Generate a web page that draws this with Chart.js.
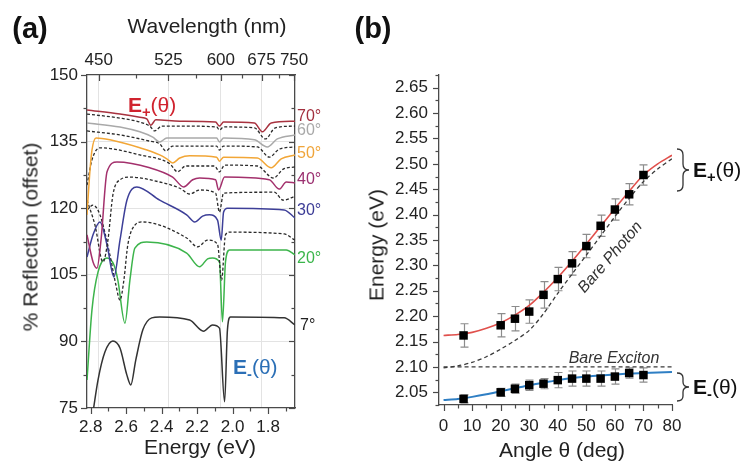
<!DOCTYPE html>
<html><head><meta charset="utf-8">
<script src="https://cdn.jsdelivr.net/npm/chart.js@4.4.1/dist/chart.umd.min.js"></script>
<style>
html,body{margin:0;padding:0;background:#fff;}
body{width:751px;height:461px;position:relative;overflow:hidden;font-family:"Liberation Sans",Arial,Helvetica,sans-serif;}
canvas{position:absolute;top:0;}
#ca{left:0;}
#cb{left:355px;}
.t{position:absolute;white-space:nowrap;line-height:1;color:#222;transform:translate(-50%,-50%);}
.l{position:absolute;white-space:nowrap;line-height:1;transform:translate(0,-50%);font-size:16px;}
sub{font-size:70%;vertical-align:-0.35em;}
</style></head><body>
<canvas id="ca" width="355" height="461"></canvas>
<canvas id="cb" width="396" height="461"></canvas>

<div class="t" style="left:30px;top:28px;font-size:29px;font-weight:bold;color:#111;">(a)</div>
<div class="t" style="left:373px;top:28px;font-size:29px;font-weight:bold;color:#111;">(b)</div>
<div class="t" style="left:207px;top:25px;font-size:21px;">Wavelength (nm)</div>
<div class="t" style="left:200px;top:446px;font-size:21px;">Energy (eV)</div>
<div class="t" style="left:30px;top:237px;font-size:21px;transform:translate(-50%,-50%) rotate(-90deg);">% Reflection (offset)</div>
<div class="t" style="left:376px;top:245px;font-size:21px;transform:translate(-50%,-50%) rotate(-90deg);">Energy (eV)</div>
<div class="t" style="left:562px;top:449px;font-size:21px;">Angle θ (deg)</div>

<div class="l" style="left:128px;top:107px;font-size:21px;color:#d0232e;"><b>E<sub>+</sub></b>(θ)</div>
<div class="l" style="left:233px;top:369px;font-size:21px;color:#2b6fb6;"><b>E<sub>-</sub></b>(θ)</div>

<div class="l" style="left:297px;top:116px;color:#a3303f;">70°</div>
<div class="l" style="left:297px;top:130px;color:#a9a9a9;">60°</div>
<div class="l" style="left:297px;top:153px;color:#f0a53a;">50°</div>
<div class="l" style="left:297px;top:179px;color:#9b3070;">40°</div>
<div class="l" style="left:297px;top:210px;color:#3c3c96;">30°</div>
<div class="l" style="left:297px;top:258px;color:#3ab54a;">20°</div>
<div class="l" style="left:300px;top:325px;color:#222;">7°</div>

<div class="l" style="left:693px;top:172px;font-size:21px;color:#111;"><b>E<sub>+</sub></b>(θ)</div>
<div class="l" style="left:693px;top:389px;font-size:21px;color:#111;"><b>E<sub>-</sub></b>(θ)</div>
<div class="t" style="left:614px;top:358px;font-size:16px;font-style:italic;color:#333;">Bare Exciton</div>
<div class="t" style="left:610px;top:257px;font-size:16px;font-style:italic;color:#333;transform:translate(-50%,-50%) rotate(-49deg);">Bare Photon</div>

<svg style="position:absolute;left:0;top:0;" width="751" height="461">
 <path d="M677,149 Q683,149 683,155 L683,164 Q683,170 689,170 Q683,170 683,176 L683,185 Q683,191 677,191" fill="none" stroke="#333" stroke-width="1.3"/>
 <path d="M677,373 Q683,373 683,378 L683,382 Q683,387 689,387 Q683,387 683,392 L683,396 Q683,401 677,401" fill="none" stroke="#333" stroke-width="1.3"/>
</svg>

<script>
// ---------- Panel (a): reflection spectra (energy eV, % reflection offset) ----------
const e70 = [2.821,2.635,2.523,2.484,2.461,2.433,2.298,2.096,2.074,2.051,1.877,1.832,1.782,1.648];
const r70 = [142.1,141.2,140.5,140.1,138.7,139.9,139.6,139.4,138.5,139.4,139.2,137.2,139.2,139.6];
const e65 = [2.821,2.635,2.523,2.467,2.439,2.399,2.298,2.090,2.074,2.051,1.877,1.815,1.759,1.648];
const r65 = [141.2,140.3,139.4,138.5,137.4,138.5,138.5,138.3,137.6,138.3,138.1,135.6,138.1,138.5];
const e60 = [2.821,2.635,2.523,2.450,2.411,2.371,2.298,2.090,2.074,2.051,1.877,1.804,1.748,1.648];
const r60 = [139.2,138.3,137.2,136.0,134.9,135.8,135.8,135.8,134.9,135.8,135.4,133.8,135.6,136.5];
const e55 = [2.821,2.635,2.467,2.411,2.377,2.338,2.090,2.074,2.051,1.860,1.793,1.737,1.648];
const r55 = [137.4,136.5,135.1,134.5,132.9,134.0,134.0,133.1,134.0,133.8,131.5,133.3,133.8];
const e50 = [2.821,2.804,2.793,2.770,2.692,2.523,2.411,2.371,2.338,2.298,2.242,2.090,2.074,2.051,1.860,1.782,1.726,1.648];
const r50 = [118.5,128.6,133.1,135.8,135.4,133.6,132.0,131.1,130.2,131.3,131.8,131.5,130.6,131.5,131.3,129.1,131.1,132.0];
const e45 = [2.821,2.793,2.748,2.523,2.354,2.310,2.265,2.102,2.074,2.045,1.860,1.770,1.714,1.648];
const r45 = [125.2,130.9,133.6,132.0,130.0,128.2,129.5,129.5,128.2,129.7,129.5,126.8,128.8,129.3];
const e40 = [2.821,2.787,2.765,2.742,2.708,2.652,2.467,2.338,2.276,2.225,2.186,2.096,2.079,2.045,1.793,1.737,1.697,1.648];
const r40 = [114.0,107.9,106.5,112.8,128.2,130.4,129.1,127.0,124.8,126.4,126.8,126.4,124.1,127.0,126.4,124.3,125.9,125.7];
const e35 = [2.821,2.776,2.731,2.703,2.675,2.635,2.579,2.411,2.298,2.242,2.186,2.096,2.074,2.051,1.765,1.714,1.648];
const r35 = [121.8,116.2,107.9,112.8,123.0,126.4,127.0,125.9,124.5,123.2,124.1,123.4,119.1,123.4,123.6,121.8,122.7];
const e30 = [2.821,2.787,2.748,2.708,2.669,2.635,2.596,2.540,2.411,2.259,2.214,2.169,2.130,2.085,2.064,2.051,2.029,1.709,1.648];
const r30 = [109.0,114.0,116.9,111.7,104.5,112.8,121.8,124.8,121.8,118.5,116.9,118.2,118.5,117.3,112.8,119.1,120.0,119.6,117.8];
const e25 = [2.821,2.787,2.748,2.692,2.658,2.635,2.613,2.591,2.551,2.512,2.259,2.197,2.141,2.085,2.062,2.040,2.017,1.709,1.648];
const r25 = [119.6,120.7,118.5,109.5,102.7,99.3,103.8,111.7,116.2,116.9,113.3,111.3,112.8,111.9,103.8,114.0,114.6,114.2,112.8];
const e20 = [2.821,2.793,2.759,2.708,2.669,2.647,2.607,2.579,2.551,2.484,2.259,2.186,2.141,2.113,2.074,2.057,2.040,2.017,1.697,1.648];
const r20 = [81.3,97.1,105.6,108.8,107.2,103.8,94.1,103.8,111.0,112.4,109.9,106.8,108.6,108.8,107.9,94.4,107.9,110.6,110.6,109.5];
const e7 = [2.787,2.759,2.720,2.675,2.635,2.596,2.574,2.546,2.506,2.456,2.411,2.242,2.164,2.113,2.074,2.045,2.029,2.012,1.709,1.648];
const r7 = [74.1,81.3,87.6,90.1,88.5,82.4,80.2,85.8,92.6,95.3,95.5,94.8,92.3,93.7,93.0,76.4,92.6,95.5,95.3,93.7];

const energyTicks = [2.8, 2.6, 2.4, 2.2, 2.0, 1.8];
const energyMinor = [2.7, 2.5, 2.3, 2.1, 1.9, 1.7];
const wavelengthTicks = [450, 525, 600, 675, 750];
const wavelengthMinor = [487.5, 562.5, 637.5, 712.5];
const reflTicks = [150, 135, 120, 105, 90, 75];
const reflMinor = [142.5, 127.5, 112.5, 97.5, 82.5];

// ---------- Panel (b): dispersion ----------
const angles = [7, 20, 25, 30, 35, 40, 45, 50, 55, 60, 65, 70];
const upperE = [2.162, 2.182, 2.195, 2.209, 2.242, 2.273, 2.304, 2.338, 2.378, 2.410, 2.440, 2.478];
const upperErr = [0.023, 0.023, 0.024, 0.023, 0.026, 0.023, 0.023, 0.023, 0.021, 0.021, 0.021, 0.020];
const lowerE = [2.037, 2.050, 2.057, 2.064, 2.067, 2.074, 2.077, 2.077, 2.077, 2.081, 2.088, 2.084];
const lowerErr = [0.008, 0.008, 0.009, 0.010, 0.010, 0.015, 0.015, 0.015, 0.015, 0.015, 0.010, 0.014];
const fitAngles = [0, 5, 10, 15, 20, 25, 30, 35, 40, 45, 50, 55, 60, 65, 70, 75, 80];
const upperFit = [2.162, 2.164, 2.168, 2.176, 2.187, 2.202, 2.221, 2.247, 2.276, 2.308, 2.342, 2.377, 2.412, 2.446, 2.478, 2.500, 2.517];
const lowerFit = [2.035, 2.037, 2.041, 2.046, 2.052, 2.058, 2.064, 2.069, 2.074, 2.078, 2.081, 2.083, 2.085, 2.087, 2.088, 2.089, 2.090];
const photonE = [2.098, 2.102, 2.109, 2.120, 2.135, 2.152, 2.172, 2.205, 2.245, 2.283, 2.320, 2.358, 2.396, 2.432, 2.465, 2.490, 2.510];
const excitonAngles = [0, 80];
const excitonE = [2.100, 2.100];
const angleTicks = [0, 10, 20, 30, 40, 50, 60, 70, 80];
const angleMinor = [5, 15, 25, 35, 45, 55, 65, 75];
const energyBTicks = [2.05, 2.10, 2.15, 2.20, 2.25, 2.30, 2.35, 2.40, 2.45, 2.50, 2.55, 2.60, 2.65];
const energyBMinor = [2.025, 2.075, 2.125, 2.175, 2.225, 2.275, 2.325, 2.375, 2.425, 2.475, 2.525, 2.575, 2.625, 2.675];

const HC = 1239.84;
const FONT = '"Liberation Sans", Arial, Helvetica, sans-serif';
const pts = (xs, ys) => xs.map((x, i) => ({x, y: ys[i]}));

const tickMarks = {
  id: 'tickMarks',
  afterDraw(chart, args, opts) {
    const ctx = chart.ctx, a = chart.chartArea;
    ctx.save();
    ctx.strokeStyle = opts.color || '#444';
    ctx.lineWidth = 1.2;
    (opts.specs || []).forEach(sp => {
      const sc = chart.scales[sp.scale];
      [[sp.major, sp.majorLen], [sp.minor, sp.minorLen]].forEach(([vals, len]) => {
        vals.forEach(v => {
          const p = Math.round(sc.getPixelForValue(v)) + 0.5;
          ctx.beginPath();
          if (sp.edge === 'top' || sp.edge === 'bottom') {
            const y0 = sp.edge === 'top' ? a.top : a.bottom;
            const dir = (sp.edge === 'top' ? -1 : 1) * (sp.inward ? -1 : 1);
            ctx.moveTo(p, y0); ctx.lineTo(p, y0 + dir * len);
          } else {
            const x0 = sp.edge === 'left' ? a.left : a.right;
            const dir = (sp.edge === 'left' ? -1 : 1) * (sp.inward ? -1 : 1);
            ctx.moveTo(x0, p); ctx.lineTo(x0 + dir * len, p);
          }
          ctx.stroke();
        });
      });
    });
    ctx.restore();
  }
};

const errBars = {
  id: 'errBars',
  beforeDatasetsDraw(chart) {
    const ctx = chart.ctx, x = chart.scales.x, y = chart.scales.y;
    chart.data.datasets.forEach(ds => {
      if (!ds.errors) return;
      ctx.save();
      ctx.strokeStyle = '#8c8c8c';
      ctx.lineWidth = 1.2;
      ds.data.forEach((p, i) => {
        const px = Math.round(x.getPixelForValue(p.x)) + 0.5;
        const y1 = y.getPixelForValue(p.y + ds.errors[i]);
        const y2 = y.getPixelForValue(p.y - ds.errors[i]);
        ctx.beginPath();
        ctx.moveTo(px, y1); ctx.lineTo(px, y2);
        ctx.moveTo(px - 4, y1); ctx.lineTo(px + 4, y1);
        ctx.moveTo(px - 4, y2); ctx.lineTo(px + 4, y2);
        ctx.stroke();
      });
      ctx.restore();
    });
  }
};

const solid = (label, xs, ys, color) => ({label, data: pts(xs, ys), borderColor: color, borderWidth: 1.5, pointRadius: 0, fill: false});
const dashed = (label, xs, ys) => ({label, data: pts(xs, ys), borderColor: '#2a2a2a', borderWidth: 1.3, borderDash: [3, 2], pointRadius: 0, fill: false});

const gridCol = '#e3e3e3';
const axisCol = '#4a4a4a';
const noGrid = {display: false, drawTicks: false};

new Chart(document.getElementById('ca'), {
  type: 'line',
  data: {datasets: [
    solid('70°', e70, r70, '#a8323f'),
    dashed('65°', e65, r65),
    solid('60°', e60, r60, '#a9a9a9'),
    dashed('55°', e55, r55),
    solid('50°', e50, r50, '#f2a636'),
    dashed('45°', e45, r45),
    solid('40°', e40, r40, '#a3306c'),
    dashed('35°', e35, r35),
    solid('30°', e30, r30, '#3d3f98'),
    dashed('25°', e25, r25),
    solid('20°', e20, r20, '#3cb44b'),
    solid('7°', e7, r7, '#333333')
  ]},
  options: {
    responsive: false, animation: false, events: [],
    layout: {padding: 0},
    elements: {line: {cubicInterpolationMode: 'monotone'}},
    plugins: {
      legend: {display: false}, tooltip: {enabled: false},
      tickMarks: {color: axisCol, specs: [
        {scale: 'x', edge: 'bottom', inward: false, major: energyTicks, minor: energyMinor, majorLen: 6, minorLen: 3.5},
        {scale: 'x2', edge: 'top', inward: true, major: wavelengthTicks.map(w => HC / w), minor: wavelengthMinor.map(w => HC / w), majorLen: 6, minorLen: 3.5},
        {scale: 'y', edge: 'left', inward: false, major: reflTicks, minor: reflMinor, majorLen: 6, minorLen: 3.5},
        {scale: 'y', edge: 'right', inward: true, major: reflTicks, minor: reflMinor, majorLen: 6, minorLen: 3.5}
      ]}
    },
    scales: {
      x: {type: 'linear', position: 'bottom', reverse: true, min: 1.648, max: 2.821,
        afterBuildTicks: s => { s.ticks = energyTicks.map(v => ({value: v})); },
        afterFit: s => { s.height = 53; },
        ticks: {callback: v => v.toFixed(1), padding: 9, autoSkip: false, maxRotation: 0, color: '#222', font: {size: 17, family: FONT}},
        grid: noGrid,
        border: {display: true, color: axisCol, width: 1.3}},
      x2: {type: 'linear', position: 'top', reverse: true, min: 1.648, max: 2.821,
        afterBuildTicks: s => { s.ticks = wavelengthTicks.map(w => ({value: HC / w})); },
        afterFit: s => { s.height = 75; },
        ticks: {callback: (v, i) => String(wavelengthTicks[i]), padding: 4, autoSkip: false, maxRotation: 0, color: '#222', font: {size: 17, family: FONT}},
        grid: {display: true, drawTicks: false, drawOnChartArea: true, color: c => (c.index === 4 ? 'rgba(0,0,0,0)' : gridCol), lineWidth: 1},
        border: {display: true, color: axisCol, width: 1.3}},
      y: {type: 'linear', position: 'left', min: 75, max: 150,
        afterBuildTicks: s => { s.ticks = reflTicks.map(v => ({value: v})); },
        afterFit: s => { s.width = 87; },
        ticks: {padding: 9, color: '#222', font: {size: 17, family: FONT}},
        grid: {display: true, drawTicks: false, drawOnChartArea: true, color: c => ((c.tick && (c.tick.value === 150 || c.tick.value === 75)) ? 'rgba(0,0,0,0)' : gridCol), lineWidth: 1},
        border: {display: true, color: axisCol, width: 1.3}},
      y2: {type: 'linear', position: 'right', min: 75, max: 150,
        afterFit: s => { s.width = 60; },
        ticks: {display: false},
        grid: noGrid,
        border: {display: true, color: axisCol, width: 1.3}}
    }
  },
  plugins: [tickMarks]
});

new Chart(document.getElementById('cb'), {
  type: 'line',
  data: {datasets: [
    {label: 'E+ data', data: pts(angles, upperE), errors: upperErr, showLine: false, pointStyle: 'rect', pointRadius: 6, pointBackgroundColor: '#000', pointBorderColor: '#000', pointBorderWidth: 0},
    {label: 'E- data', data: pts(angles, lowerE), errors: lowerErr, showLine: false, pointStyle: 'rect', pointRadius: 6, pointBackgroundColor: '#000', pointBorderColor: '#000', pointBorderWidth: 0},
    {label: 'E+ fit', data: pts(fitAngles, upperFit), borderColor: '#e0504c', borderWidth: 1.6, pointRadius: 0, tension: 0.3},
    {label: 'E- fit', data: pts(fitAngles, lowerFit), borderColor: '#2f7fc4', borderWidth: 2, pointRadius: 0, tension: 0.3},
    {label: 'Bare Photon', data: pts(fitAngles, photonE), borderColor: '#3a3a3a', borderWidth: 1.3, borderDash: [4, 3], pointRadius: 0, tension: 0.3},
    {label: 'Bare Exciton', data: pts(excitonAngles, excitonE), borderColor: '#3a3a3a', borderWidth: 1.3, borderDash: [4, 3], pointRadius: 0}
  ]},
  options: {
    responsive: false, animation: false, events: [],
    layout: {padding: {top: 75, right: 79, left: 0, bottom: 0}},
    plugins: {
      legend: {display: false}, tooltip: {enabled: false},
      tickMarks: {color: axisCol, specs: [
        {scale: 'x', edge: 'bottom', inward: false, major: angleTicks, minor: angleMinor, majorLen: 6, minorLen: 3.5},
        {scale: 'y', edge: 'left', inward: false, major: energyBTicks, minor: energyBMinor, majorLen: 6, minorLen: 3.5}
      ]}
    },
    scales: {
      x: {type: 'linear', position: 'bottom', min: -1.6, max: 80,
        afterBuildTicks: s => { s.ticks = angleTicks.map(v => ({value: v})); },
        afterFit: s => { s.height = 56; },
        ticks: {padding: 11, autoSkip: false, maxRotation: 0, color: '#222', font: {size: 17, family: FONT}},
        grid: noGrid,
        border: {display: true, color: axisCol, width: 1.3}},
      y: {type: 'linear', position: 'left', min: 2.025, max: 2.675,
        afterBuildTicks: s => { s.ticks = energyBTicks.map(v => ({value: v})); },
        afterFit: s => { s.width = 84; },
        ticks: {callback: v => v.toFixed(2), padding: 11, autoSkip: false, color: '#222', font: {size: 17, family: FONT}},
        grid: noGrid,
        border: {display: true, color: axisCol, width: 1.3}}
    }
  },
  plugins: [tickMarks, errBars]
});
</script>
</body></html>
